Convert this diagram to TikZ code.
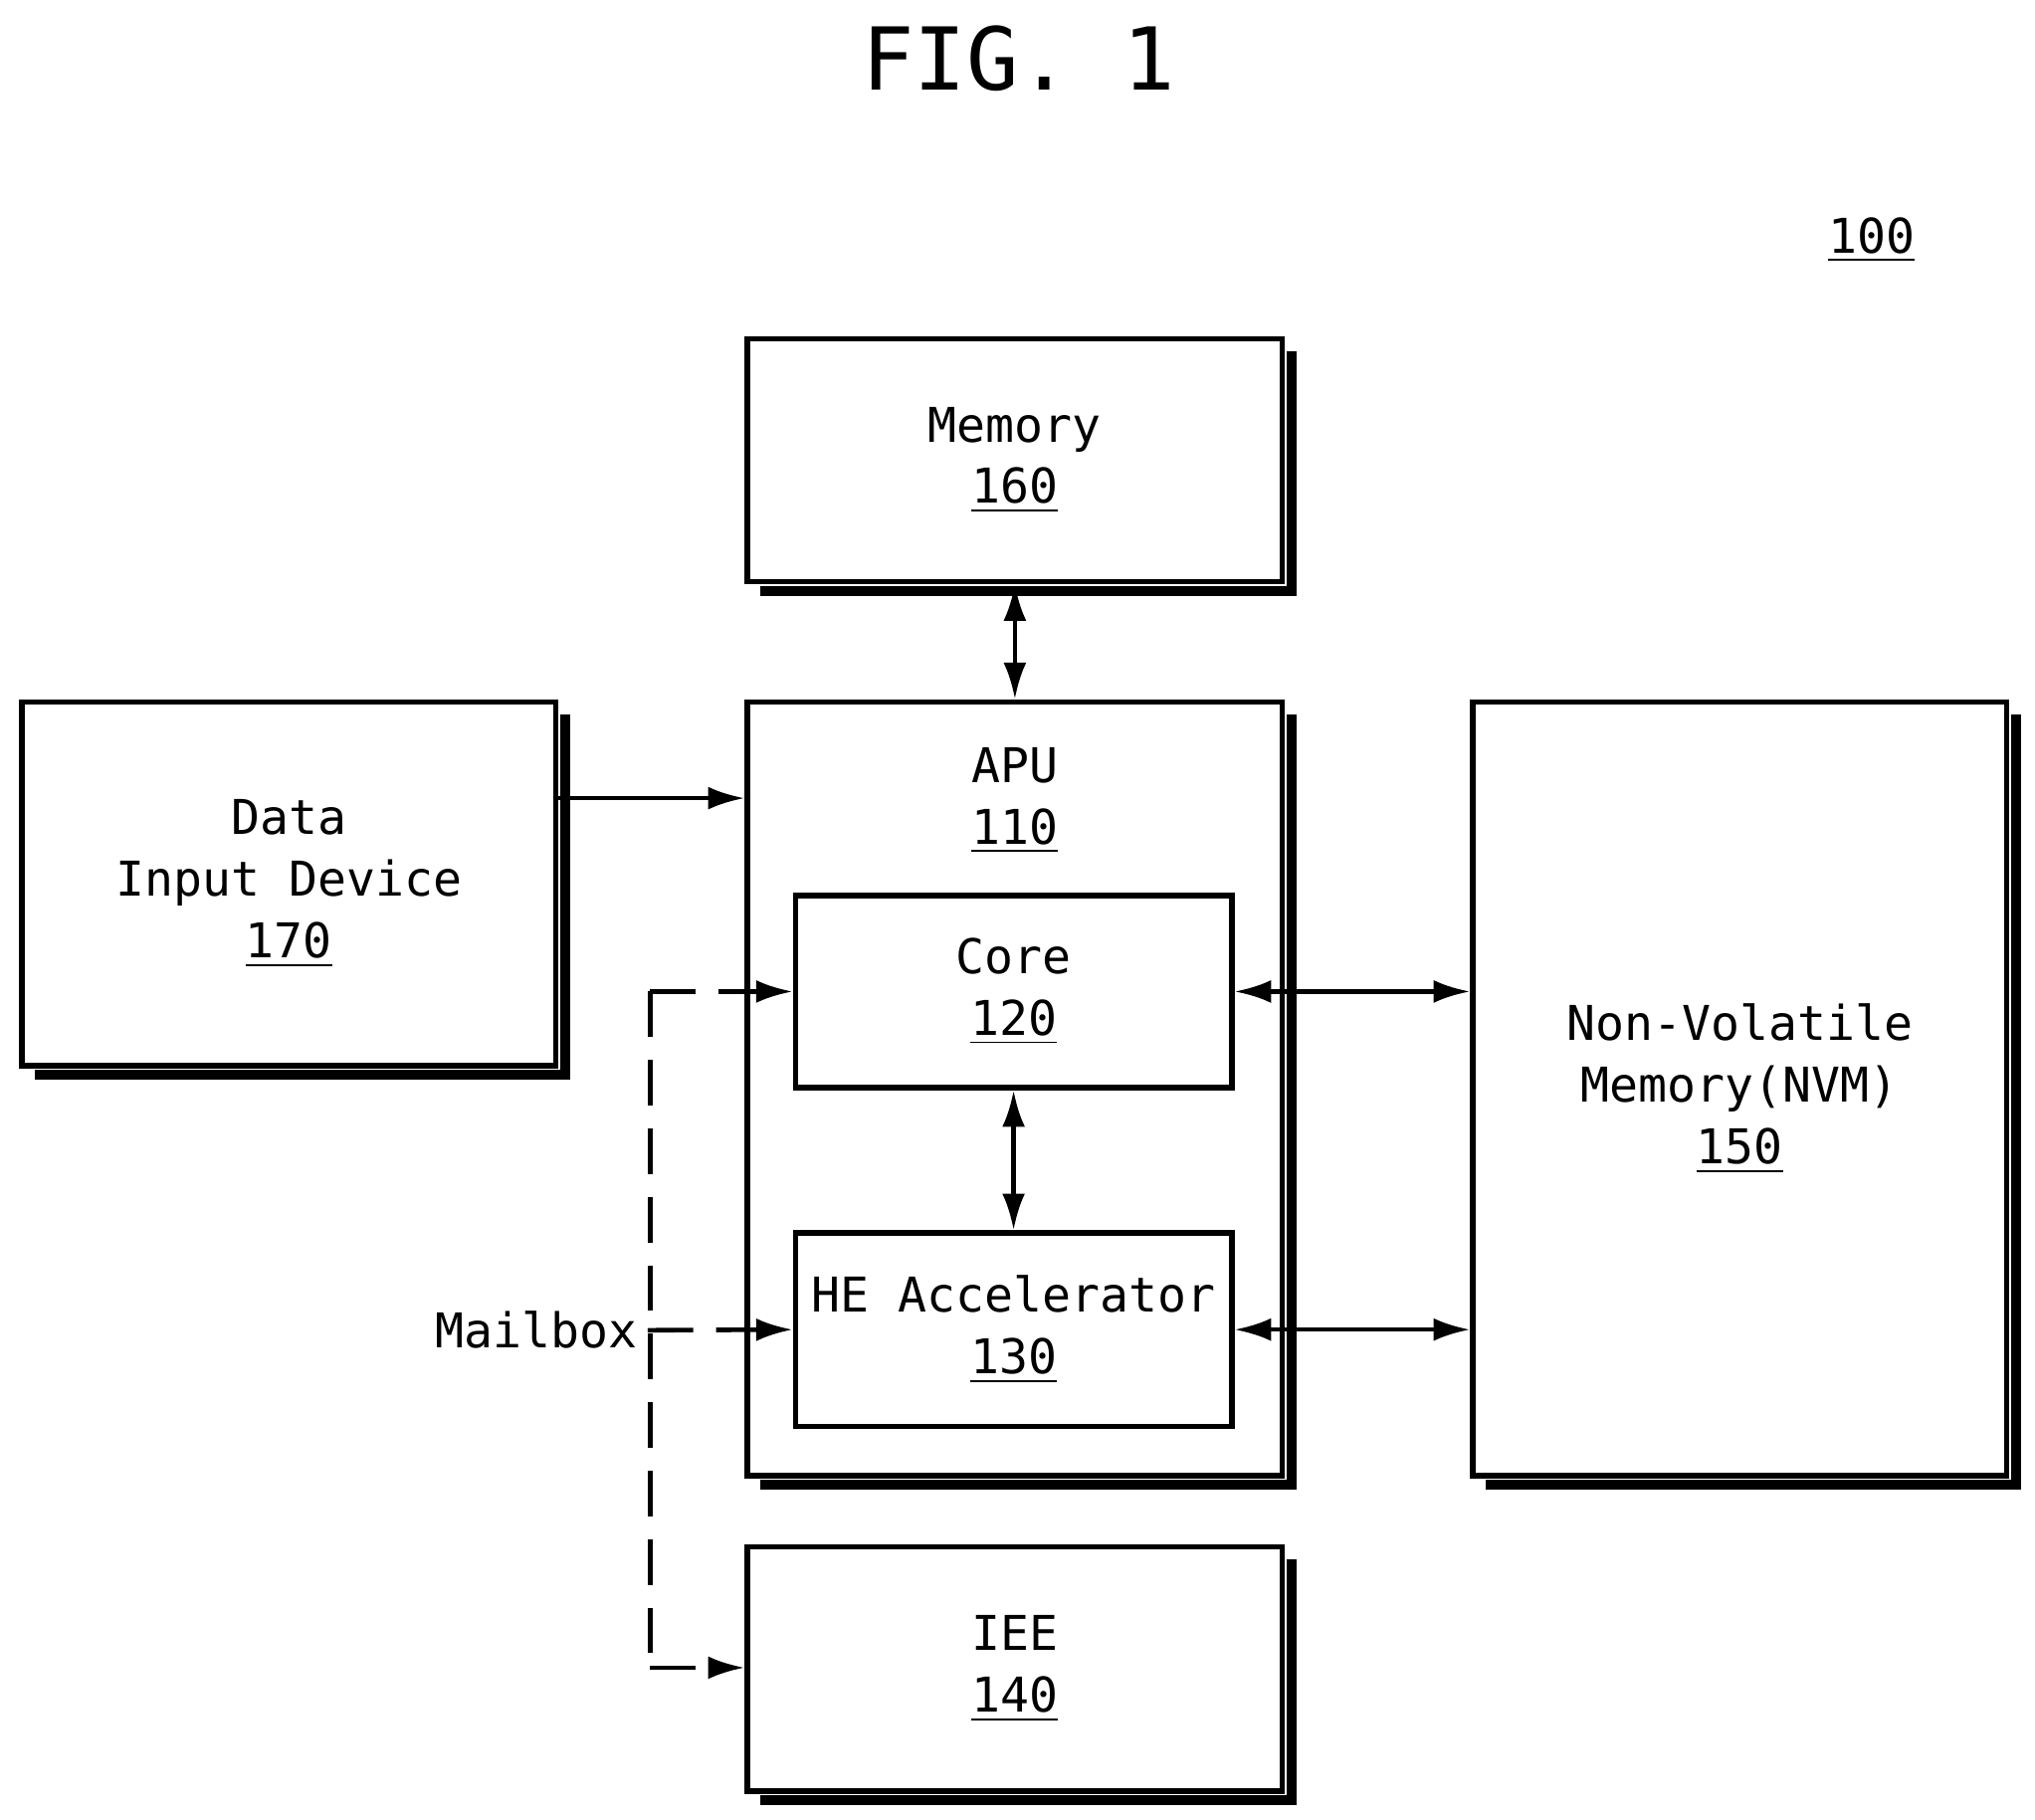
\documentclass[tikz,border=0pt]{standalone}
\usepackage{fontspec}
\setmainfont{DejaVu Sans Mono}
\usetikzlibrary{calc,arrows.meta}
\begin{document}
\begin{tikzpicture}[x=0.01cm,y=-0.01cm,
 box/.style={draw,line width=1.2pt,inner sep=0pt,align=center,font=\fontsize{10.5}{13.5}\selectfont},
 sbox/.style={draw,line width=1.2pt,inner sep=0pt,align=center,font=\fontsize{10.5}{13.5}\selectfont},
 arr/.style={line width=1pt,-{Latex[length=8pt,width=5pt]}},
 darr/.style={line width=1pt,{Latex[length=8pt,width=5pt]}-{Latex[length=8pt,width=5pt]}},
 dashln/.style={line width=1pt,dash pattern=on 10pt off 5pt},
 lbl/.style={font=\fontsize{10.5}{13.5}\selectfont}]
\useasboundingbox (0,0) rectangle (1568,1402);
\newcommand{\shad}[1]{\draw[line width=2.2pt] ($(#1.north east)+(5,12)$) -- ($(#1.south east)+(5,5)$) -- ($(#1.south west)+(12,5)$);}
\node[lbl,font=\fontsize{19}{22}\selectfont] (fig) at (785,45) {FIG. 1};
\node[lbl] (ref) at (1442,185) {\underline{100}};
\node[box,minimum width=4.12cm,minimum height=1.87cm] (mem) at (782,354.5) {Memory\\\underline{160}};
\node[box,minimum width=4.12cm,minimum height=5.96cm] (apu) at (782,839) {};
\node[lbl,align=center] (apul) at (782,617) {APU\\\underline{110}};
\node[box,minimum width=4.11cm,minimum height=2.80cm] (din) at (222.5,681) {Data\\Input Device\\\underline{170}};
\node[box,minimum width=4.11cm,minimum height=5.96cm] (nvm) at (1340.5,839) {Non-Volatile\\Memory(NVM)\\\underline{150}};
\node[box,minimum width=4.12cm,minimum height=1.88cm] (iee) at (782,1286) {IEE\\\underline{140}};
\node[sbox,minimum width=3.36cm,minimum height=1.48cm] (core) at (781,764) {Core\\\underline{120}};
\node[sbox,minimum width=3.36cm,minimum height=1.49cm] (he) at (781,1024.5) {HE Accelerator\\\underline{130}};
\shad{mem}\shad{apu}\shad{din}\shad{nvm}\shad{iee}
\draw[darr] (mem.south) -- (apu.north);
\draw[arr] (din.east|-0,615) -- (apu.west|-0,615);
\draw[darr] (core.east) -- (nvm.west|-core.east);
\draw[darr] (he.east) -- (nvm.west|-he.east);
\draw[darr] (core.south) -- (he.north);
\node[lbl,anchor=east,inner sep=2pt] (mb) at (499,1025) {Mailbox};
\coordinate (top) at (501,764);
\coordinate (bot) at (501,1285);
\draw[dashln] (top) -- (bot);
\draw[dashln,arr] (top) -- (core.west);
\draw[dashln,arr] (mb.east) -- (he.west);
\draw[dashln,arr] (bot) -- (iee.west|-bot);
\end{tikzpicture}
\end{document}
